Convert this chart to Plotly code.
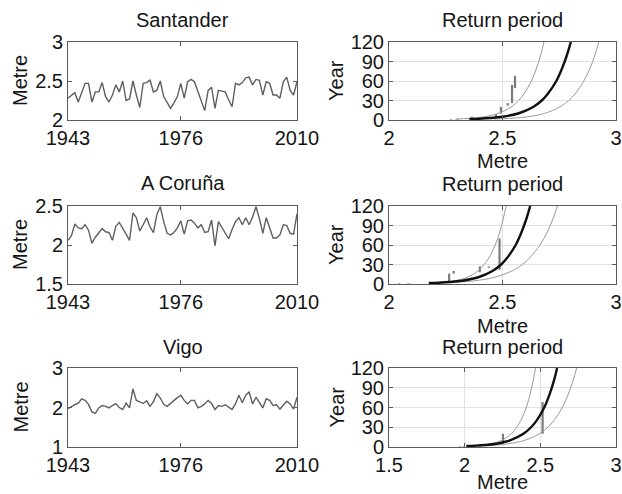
import plotly.graph_objects as go

W, H = 622, 494

years = list(range(1943, 2011))

santander = [2.28, 2.31, 2.35, 2.23, 2.35, 2.47, 2.47, 2.23, 2.36, 2.36, 2.48, 2.30, 2.23, 2.32,
             2.45, 2.36, 2.50, 2.25, 2.27, 2.50, 2.32, 2.16, 2.47, 2.48, 2.51, 2.36, 2.38, 2.50,
             2.30, 2.22, 2.15, 2.22, 2.30, 2.47,
             2.28, 2.49, 2.52, 2.49, 2.36, 2.23, 2.12, 2.38, 2.42, 2.15, 2.38, 2.37, 2.36, 2.26,
             2.17, 2.47, 2.45, 2.48, 2.54, 2.55, 2.45, 2.52, 2.51, 2.32, 2.49, 2.47, 2.32, 2.32,
             2.28, 2.49, 2.55, 2.38, 2.32, 2.49]
coruna = [2.06, 2.12, 2.27, 2.22, 2.21, 2.26, 2.19, 2.02, 2.10, 2.16, 2.21, 2.17, 2.16, 2.06,
          2.24, 2.29, 2.22, 2.14, 2.06, 2.41, 2.35, 2.18, 2.26, 2.35, 2.23, 2.16, 2.39, 2.49,
          2.30, 2.15, 2.13, 2.16, 2.22, 2.31,
          2.14, 2.31, 2.32, 2.28, 2.22, 2.26, 2.16, 2.17, 2.32, 1.99, 2.30, 2.22, 2.15, 2.08,
          2.20, 2.30, 2.35, 2.26, 2.35, 2.26, 2.36, 2.49, 2.34, 2.15, 2.35, 2.22, 2.09, 2.09,
          2.13, 2.26, 2.25, 2.15, 2.14, 2.40]
vigo = [1.97, 2.03, 2.07, 2.11, 2.22, 2.18, 2.08, 1.89, 1.85, 1.99, 2.05, 2.03, 1.99, 2.05,
        2.10, 2.00, 1.95, 2.11, 1.99, 2.47, 2.18, 2.14, 2.10, 2.17, 2.03, 2.15, 2.35, 2.24,
        2.08, 2.03, 2.11, 2.18, 2.25, 2.31,
        2.18, 2.09, 2.18, 2.18, 1.99, 2.03, 2.09, 2.18, 2.10, 1.95, 2.05, 2.03, 2.07, 2.01,
        1.95, 2.09, 2.31, 2.12, 2.31, 2.39, 2.09, 2.26, 2.14, 1.99, 2.22, 2.18, 2.05, 2.07,
        1.96, 2.07, 2.16, 2.09, 1.96, 2.26]

# Return-period curves: return period (years) and the level (m) read for each curve
rp_T = [1.5, 2, 3, 5, 10, 20, 30, 40, 60, 80, 100, 120]
san_mid = [2.354, 2.397, 2.446, 2.500, 2.569, 2.635, 2.673, 2.699, 2.737, 2.763, 2.784, 2.801]
san_up = [2.292, 2.329, 2.372, 2.420, 2.480, 2.538, 2.571, 2.594, 2.627, 2.650, 2.668, 2.683]
san_lo = [2.461, 2.505, 2.556, 2.612, 2.684, 2.752, 2.791, 2.819, 2.858, 2.886, 2.907, 2.924]
cor_mid = [2.175, 2.218, 2.267, 2.321, 2.390, 2.456, 2.494, 2.520, 2.558, 2.584, 2.605, 2.622]
cor_up = [2.181, 2.212, 2.249, 2.290, 2.342, 2.391, 2.419, 2.440, 2.468, 2.488, 2.503, 2.516]
cor_lo = [2.201, 2.252, 2.311, 2.378, 2.461, 2.541, 2.587, 2.619, 2.665, 2.697, 2.722, 2.742]
vig_mid = [2.011, 2.068, 2.134, 2.208, 2.300, 2.388, 2.439, 2.475, 2.526, 2.561, 2.589, 2.611]
vig_up = [2.037, 2.077, 2.125, 2.178, 2.244, 2.308, 2.344, 2.370, 2.407, 2.432, 2.452, 2.468]
vig_lo = [2.076, 2.139, 2.212, 2.293, 2.395, 2.493, 2.549, 2.589, 2.645, 2.684, 2.715, 2.740]

# Empirical return-period segments (level, low T, high T)
san_bx = [2.274, 2.303, 2.366, 2.471, 2.493, 2.523, 2.542, 2.555]
san_blo = [0.5, 0.5, 1, 5, 10, 22, 26, 49]
san_bhi = [1.5, 1.5, 5, 9, 20, 26, 54, 68]
cor_bx = [2.045, 2.085, 2.265, 2.285, 2.40, 2.44, 2.487]
cor_blo = [0.5, 0.5, 3, 16, 18, 25, 22]
cor_bhi = [1.5, 1.5, 16, 20, 27, 27, 70]
vig_bx = [1.97, 1.995, 2.10, 2.253, 2.515]
vig_blo = [0.5, 0.5, 0.5, 5, 20]
vig_bhi = [1.5, 1.5, 2, 20, 68]

stations = ["Santander", "A Coruña", "Vigo"]
series = [santander, coruna, vigo]
ts_ranges = [[2, 3], [1.5, 2.5], [1, 3]]
ts_ticks = [[2, 2.5, 3], [1.5, 2, 2.5], [1, 2, 3]]
rp_xranges = [[2, 3], [2, 3], [1.5, 3]]
rp_xticks = [[2, 2.5, 3], [2, 2.5, 3], [1.5, 2, 2.5, 3]]
curves = [(san_mid, san_up, san_lo), (cor_mid, cor_up, cor_lo), (vig_mid, vig_up, vig_lo)]
bars = [(san_bx, san_blo, san_bhi), (cor_bx, cor_blo, cor_bhi), (vig_bx, vig_blo, vig_bhi)]
year_ticks = [1943, 1976, 2010]
T_ticks = [0, 30, 60, 90, 120]

FONT = "Liberation Sans, Arial, sans-serif"
FS = 20
TXT = "#151515"
FRAME = "#5a5a5a"

rows_px = [(42, 120), (206, 284), (368, 447)]
left_px = (68, 297)
right_px = (389, 616)


def dx(a, b):
    return [a / W, b / W]


def dy(top, bot):
    return [1 - bot / H, 1 - top / H]


fig = go.Figure()
layout = {}
annotations = []

for i in range(3):
    xl = "x%d" % (2 * i + 1)
    yl = "y%d" % (2 * i + 1)
    xr = "x%d" % (2 * i + 2)
    yr = "y%d" % (2 * i + 2)
    top, bot = rows_px[i]

    fig.add_trace(go.Scatter(x=years, y=series[i], mode="lines",
                             line=dict(color="#5f5f5f", width=1.4),
                             xaxis=xl, yaxis=yl, showlegend=False))

    bx, blo, bhi = bars[i]
    sx, sy = [], []
    for xv, lo, hi in zip(bx, blo, bhi):
        sx += [xv, xv, None]
        sy += [lo, hi, None]
    fig.add_trace(go.Scatter(x=sx, y=sy, mode="lines",
                             line=dict(color="#7a7a7a", width=2.2),
                             xaxis=xr, yaxis=yr, showlegend=False))
    mid, up, lo = curves[i]
    for c, col, wd in ((up, "#9a9a9a", 1.0), (lo, "#9a9a9a", 1.0), (mid, "#111111", 2.4)):
        fig.add_trace(go.Scatter(x=c, y=rp_T, mode="lines", line=dict(color=col, width=wd, shape="spline"),
                                 xaxis=xr, yaxis=yr, showlegend=False, cliponaxis=True))

    common = dict(showline=True, linecolor=FRAME, linewidth=1, mirror="ticks", ticks="inside",
                  ticklen=4, tickcolor=FRAME, zeroline=False, automargin=False,
                  tickfont=dict(family=FONT, size=FS, color=TXT))
    layout["xaxis%d" % (2 * i + 1)] = dict(common, domain=dx(*left_px), anchor=yl,
                                           range=[1943, 2010], tickvals=year_ticks, showgrid=False)
    layout["yaxis%d" % (2 * i + 1)] = dict(common, domain=dy(top, bot), anchor=xl,
                                           range=ts_ranges[i], tickvals=ts_ticks[i], showgrid=False)
    layout["xaxis%d" % (2 * i + 2)] = dict(common, domain=dx(*right_px), anchor=yr,
                                           range=rp_xranges[i], tickvals=rp_xticks[i],
                                           showgrid=True, gridcolor="#e2e2e2", gridwidth=1)
    layout["yaxis%d" % (2 * i + 2)] = dict(common, domain=dy(top, bot), anchor=xr,
                                           range=[0, 120], tickvals=T_ticks,
                                           showgrid=True, gridcolor="#e2e2e2", gridwidth=1)

    cy = (top + bot) / 2
    annotations.append(dict(text="Metre", x=20 / W, y=1 - cy / H, textangle=-90))
    annotations.append(dict(text="Year", x=336 / W, y=1 - cy / H, textangle=-90))

titles = [("Santander", 182.5, 20), ("Return period", 502, 20),
          ("A Coruña", 182.5, 183), ("Return period", 502, 184),
          ("Vigo", 182.5, 347), ("Return period", 502, 347),
          ("Metre", 502, 161), ("Metre", 502, 326), ("Metre", 502, 482)]
for t, x, y in titles:
    annotations.append(dict(text=t, x=x / W, y=1 - y / H))

for a in annotations:
    a.update(xref="paper", yref="paper", showarrow=False, xanchor="center", yanchor="middle",
             font=dict(family=FONT, size=FS, color=TXT))

fig.update_layout(width=W, height=H, margin=dict(l=0, r=0, t=0, b=0, autoexpand=False),
                  paper_bgcolor="white", plot_bgcolor="white",
                  annotations=annotations, **layout)

fig.write_html("out.html")
